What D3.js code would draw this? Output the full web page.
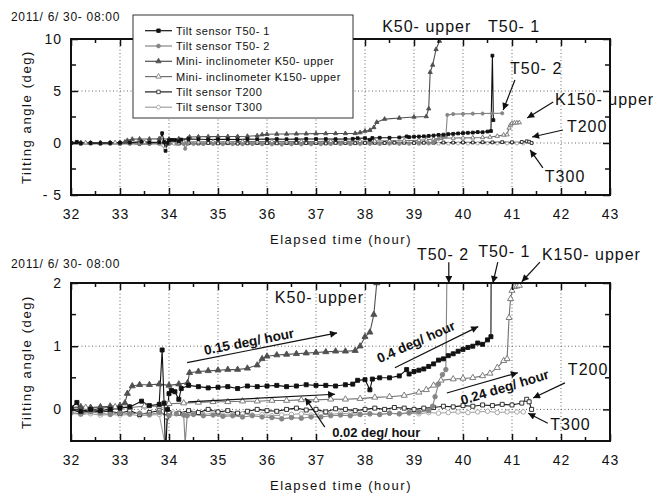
<!DOCTYPE html>
<html><head><meta charset="utf-8">
<script src="https://cdn.jsdelivr.net/npm/d3@7"></script>
<style>
body{margin:0;background:#fff}
svg{display:block}
text{font-family:"Liberation Sans",Arial,sans-serif;fill:#111}
</style>
</head><body>
<svg id="c" width="664" height="496"></svg>
<script>
// ---------------- data ----------------
const xTicks = [32,33,34,35,36,37,38,39,40,41,42,43];
const topYTicks = [-5,0,5,10];
const topYLabels = ["- 5","0","5","10"];
const botYTicks = [0,1,2];
const botYLabels = ["0","1","2"];
const seriesNames = ["Tilt sensor T50- 1","Tilt sensor T50- 2","Mini- inclinometer K50- upper","Mini- inclinometer K150- upper","Tilt sensor T200","Tilt sensor T300"];

const T50_1 = [[32.0,0.02],[32.12,0.11],[32.2,-0.03],[32.4,0.0],[32.6,-0.02],[32.8,0.0],[33.0,0.02],[33.2,0.04],[33.44,0.13],[33.6,0.06],[33.8,0.08],[33.86,0.94],[33.9,0.1],[33.93,-0.75],[33.97,0.0],[34.0,0.25],[34.05,0.3],[34.12,0.28],[34.2,0.16],[34.25,0.33],[34.4,0.38],[34.6,0.36],[34.8,0.34],[35.0,0.35],[35.2,0.36],[35.4,0.33],[35.6,0.37],[35.8,0.36],[36.0,0.37],[36.2,0.38],[36.4,0.36],[36.6,0.37],[36.8,0.39],[37.0,0.38],[37.2,0.38],[37.4,0.37],[37.6,0.39],[37.75,0.4],[37.85,0.46],[38.0,0.47],[38.1,0.31],[38.15,0.48],[38.3,0.5],[38.5,0.5],[38.7,0.53],[38.85,0.63],[38.9,0.56],[39.0,0.6],[39.1,0.62],[39.2,0.64],[39.3,0.68],[39.4,0.72],[39.5,0.78],[39.6,0.8],[39.7,0.85],[39.8,0.88],[39.9,0.92],[40.0,0.95],[40.1,0.98],[40.2,1.0],[40.3,1.05],[40.4,1.03],[40.5,1.1],[40.57,1.15],[40.6,8.4],[40.62,2.2]];

const T50_2 = [[32.0,-0.05],[32.2,-0.07],[32.4,-0.04],[32.6,-0.06],[32.8,-0.08],[33.0,-0.05],[33.2,-0.07],[33.4,-0.06],[33.6,-0.08],[33.8,-0.05],[34.0,-0.1],[34.15,-0.07],[34.3,-0.09],[34.33,-0.55],[34.37,-0.1],[34.5,-0.08],[34.7,-0.1],[34.9,-0.09],[35.1,-0.11],[35.3,-0.1],[35.5,-0.12],[35.7,-0.1],[35.9,-0.12],[36.1,-0.13],[36.3,-0.15],[36.5,-0.13],[36.7,-0.14],[36.9,-0.12],[37.1,-0.12],[37.3,-0.1],[37.5,-0.09],[37.7,-0.1],[37.9,-0.08],[38.1,-0.07],[38.3,-0.08],[38.5,-0.06],[38.7,-0.07],[38.9,-0.05],[39.1,-0.04],[39.3,-0.02],[39.38,0.05],[39.43,0.2],[39.5,0.4],[39.58,0.55],[39.65,0.63],[39.68,2.7],[39.8,2.78],[40.0,2.8],[40.2,2.82],[40.4,2.83],[40.6,2.85],[40.8,2.86]];

const K50 = [[32.0,0.03],[32.2,0.04],[32.4,0.03],[32.6,0.04],[32.8,0.05],[33.0,0.06],[33.1,0.1],[33.15,0.25],[33.25,0.37],[33.4,0.39],[33.6,0.39],[33.8,0.4],[34.0,0.38],[34.2,0.4],[34.38,0.42],[34.42,0.58],[34.6,0.6],[34.8,0.61],[35.0,0.62],[35.2,0.63],[35.4,0.63],[35.6,0.65],[35.8,0.7],[35.9,0.8],[36.0,0.84],[36.2,0.86],[36.4,0.87],[36.6,0.88],[36.8,0.89],[37.0,0.9],[37.2,0.91],[37.4,0.92],[37.6,0.92],[37.8,0.93],[37.9,1.0],[38.0,1.15],[38.1,1.22],[38.18,1.5],[38.24,2.0],[38.4,2.3],[38.7,2.4],[39.0,2.5],[39.25,2.55],[39.3,3.3],[39.33,6.8],[39.38,7.5],[39.45,9.0],[39.52,9.8]];

const K150 = [[32.0,0.02],[32.3,0.03],[32.6,0.02],[32.9,0.04],[33.2,0.03],[33.5,0.05],[33.8,0.05],[34.0,0.09],[34.3,0.1],[34.6,0.11],[34.9,0.12],[35.2,0.12],[35.5,0.13],[35.8,0.13],[36.1,0.14],[36.4,0.14],[36.7,0.15],[37.0,0.15],[37.3,0.16],[37.6,0.16],[37.9,0.17],[38.2,0.19],[38.5,0.2],[38.8,0.22],[39.1,0.27],[39.25,0.31],[39.4,0.38],[39.55,0.46],[39.8,0.48],[40.0,0.49],[40.2,0.5],[40.4,0.53],[40.55,0.57],[40.7,0.66],[40.83,0.77],[40.9,0.8],[40.94,1.45],[40.97,1.75],[41.0,1.88],[41.05,1.94],[41.1,1.95],[41.15,1.96]];

const T200 = [[32.0,0.0],[32.2,-0.05],[32.4,-0.02],[32.6,-0.04],[32.8,-0.03],[33.0,-0.06],[33.2,-0.02],[33.4,-0.08],[33.6,-0.05],[33.8,-0.02],[33.95,-0.12],[34.0,-0.05],[34.2,-0.06],[34.4,-0.02],[34.6,-0.05],[34.8,0.0],[35.0,-0.04],[35.2,-0.02],[35.4,-0.06],[35.6,-0.03],[35.8,0.0],[36.0,-0.02],[36.2,-0.03],[36.4,0.0],[36.6,0.02],[36.8,-0.01],[37.0,0.0],[37.2,-0.04],[37.4,0.01],[37.6,0.0],[37.8,-0.02],[38.0,0.0],[38.2,0.02],[38.4,0.0],[38.6,0.03],[38.8,0.02],[39.0,0.0],[39.2,0.02],[39.4,0.03],[39.6,0.05],[39.8,0.04],[40.0,0.06],[40.2,0.05],[40.4,0.07],[40.6,0.06],[40.8,0.08],[41.0,0.07],[41.2,0.1],[41.3,0.16],[41.35,0.12],[41.4,0.0]];

const T300 = [[32.0,-0.06],[32.2,-0.08],[32.4,-0.07],[32.6,-0.09],[32.8,-0.08],[33.0,-0.09],[33.2,-0.08],[33.4,-0.1],[33.6,-0.09],[33.8,-0.08],[33.92,-0.55],[33.97,-0.1],[34.1,-0.06],[34.3,-0.08],[34.5,-0.07],[34.7,-0.08],[34.9,-0.06],[35.1,-0.09],[35.3,-0.08],[35.5,-0.07],[35.7,-0.09],[35.9,-0.08],[36.1,-0.1],[36.3,-0.09],[36.5,-0.08],[36.7,-0.07],[36.9,-0.09],[37.1,-0.07],[37.3,-0.08],[37.5,-0.06],[37.7,-0.07],[37.9,-0.08],[38.1,-0.07],[38.3,-0.08],[38.5,-0.06],[38.7,-0.07],[38.9,-0.06],[39.1,-0.07],[39.3,-0.05],[39.5,-0.06],[39.7,-0.05],[39.9,-0.04],[40.1,-0.05],[40.3,-0.04],[40.5,-0.03],[40.7,-0.05],[40.9,-0.04],[41.1,-0.04],[41.23,-0.04]];

const seriesData = [T50_1, T50_2, K50, K150, T200, T300];
const seriesColors = ["#111","#858585","#505050","#707070","#1e1e1e","#a0a0a0"];
const seriesSymbols = [d3.symbolSquare, d3.symbolCircle, d3.symbolTriangle, d3.symbolTriangle, d3.symbolSquare, d3.symbolCircle];
const seriesFilled = [true,true,true,false,false,false];

// annotation labels (data coordinates)
const topLabels = [
  {t:"K50- upper", h:38.35, v:10.67},
  {t:"T50- 1", h:40.51, v:10.67},
  {t:"T50- 2", h:40.96, v:6.63, a:[[41.06,6.06],[40.82,3.17]]},
  {t:"K150- upper", h:41.88, v:3.65, a:[[41.84,3.94],[41.31,2.4]]},
  {t:"T200", h:42.12, v:1.06, a:[[42.04,1.25],[41.41,0.58]]},
  {t:"T300", h:41.67, v:-3.75, a:[[41.63,-2.4],[41.37,-0.67]]}
];
const botLabels = [
  {t:"K50- upper", h:36.16, v:1.68},
  {t:"T50- 2", h:39.06, v:2.36, a:[[39.71,2.33],[39.71,2.0]]},
  {t:"T50- 1", h:40.31, v:2.41, a:[[40.71,2.33],[40.61,2.0]]},
  {t:"K150- upper", h:41.61, v:2.36, a:[[41.57,2.33],[41.2,2.02]]},
  {t:"T200", h:42.14, v:0.54, a:[[42.08,0.42],[41.43,0.18]]},
  {t:"T300", h:41.78, v:-0.33, a:[[41.73,-0.22],[41.33,-0.06]]}
];
const rateLabels = [
  {t:"0.15 deg/ hour", h:35.65, v:1.0, rot:-11, line:[[34.37,0.74],[37.43,1.21]]},
  {t:"0.4 deg/ hour", h:39.08, v:1.0, rot:-24, line:[[38.61,0.66],[40.31,1.31]]},
  {t:"0.24 deg/ hour", h:40.88, v:0.28, rot:-17, line:[[39.67,0.26],[41.12,0.58]]}
];

// ---------------- drawing ----------------
const svg = d3.select("#c");
const defs = svg.append("defs");
defs.append("marker").attr("id","ah").attr("viewBox","0 0 10 10").attr("refX",10).attr("refY",5)
  .attr("markerWidth",9).attr("markerHeight",7).attr("markerUnits","userSpaceOnUse").attr("orient","auto")
  .append("path").attr("d","M0,0L10,5L0,10z").attr("fill","#111");

function panel(cfg){
  const x = d3.scaleLinear().domain([32,43]).range([71,610]);
  const y = d3.scaleLinear().domain(cfg.yDomain).range(cfg.yRange);
  const [yb, yt] = cfg.yRange;
  const g = svg.append("g");
  const cid = "clip"+cfg.id;
  defs.append("clipPath").attr("id",cid).append("rect")
    .attr("x",71).attr("y",yt).attr("width",539).attr("height",yb-yt);

  // grid
  const grid = g.append("g").attr("stroke","#555").attr("stroke-width",0.9).attr("stroke-dasharray","1,2.5");
  xTicks.slice(1,-1).forEach(t=>grid.append("line").attr("x1",x(t)).attr("x2",x(t)).attr("y1",yt).attr("y2",yb));
  cfg.gridY.forEach(t=>grid.append("line").attr("x1",71).attr("x2",610).attr("y1",y(t)).attr("y2",y(t)));

  // series
  const line = d3.line().x(d=>x(d[0])).y(d=>y(d[1]));
  const dg = g.append("g").attr("clip-path",`url(#${cid})`);
  const order = [5,4,3,1,2,0];
  order.forEach(i=>{
    dg.append("path").attr("d",line(seriesData[i])).attr("fill","none")
      .attr("stroke",seriesColors[i]).attr("stroke-width",cfg.lw);
  });
  order.forEach(i=>{
    const sym = d3.symbol().type(seriesSymbols[i]).size(cfg.ms);
    dg.append("g").selectAll("path").data(seriesData[i]).join("path")
      .attr("transform",d=>`translate(${x(d[0])},${y(d[1])})`)
      .attr("d",sym)
      .attr("fill",seriesFilled[i]?seriesColors[i]:"#fff")
      .attr("stroke",seriesColors[i]).attr("stroke-width",0.9);
  });

  // axes with inward ticks
  const minorX = d3.range(32.5,43,1);
  const ax = g.append("g");
  const bottom = ax.append("g").attr("transform",`translate(0,${yb})`)
    .call(d3.axisBottom(x).tickValues(xTicks).tickSize(-7).tickPadding(14).tickFormat(d3.format("d")));
  bottom.append("g").selectAll("line").data(minorX).join("line")
    .attr("x1",d=>x(d)).attr("x2",d=>x(d)).attr("y1",0).attr("y2",-4).attr("stroke","#111").attr("stroke-width",1.5);
  const top = ax.append("g").attr("transform",`translate(0,${yt})`)
    .call(d3.axisTop(x).tickValues(xTicks).tickSize(-7).tickFormat(""));
  top.append("g").selectAll("line").data(minorX).join("line")
    .attr("x1",d=>x(d)).attr("x2",d=>x(d)).attr("y1",0).attr("y2",4).attr("stroke","#111").attr("stroke-width",1.5);
  const left = ax.append("g").attr("transform","translate(71,0)")
    .call(d3.axisLeft(y).tickValues(cfg.yTicks).tickSize(-7).tickPadding(9).tickFormat((d,i)=>cfg.yLabels[i]));
  left.append("g").selectAll("line").data(cfg.minorY).join("line")
    .attr("x1",0).attr("x2",5).attr("y1",d=>y(d)).attr("y2",d=>y(d)).attr("stroke","#111").attr("stroke-width",1.5);
  const right = ax.append("g").attr("transform","translate(610,0)")
    .call(d3.axisRight(y).tickValues(cfg.yTicks).tickSize(-7).tickFormat(""));
  right.append("g").selectAll("line").data(cfg.minorY).join("line")
    .attr("x1",0).attr("x2",-5).attr("y1",d=>y(d)).attr("y2",d=>y(d)).attr("stroke","#111").attr("stroke-width",1.5);
  ax.selectAll(".domain").remove();
  ax.selectAll(".tick line").attr("stroke","#111").attr("stroke-width",1.5);
  ax.selectAll(".tick text").attr("font-size",14).attr("letter-spacing",1).attr("fill","#111")
    .attr("font-family","'Liberation Sans',Arial,sans-serif");
  // frame
  g.append("rect").attr("x",71).attr("y",yt).attr("width",539).attr("height",yb-yt)
    .attr("fill","none").attr("stroke","#111").attr("stroke-width",2);

  // titles
  g.append("text").attr("transform",`translate(31,${(yt+yb)/2}) rotate(-90)`).attr("text-anchor","middle")
    .attr("font-size",13).attr("letter-spacing",1.6).text("Tilting angle (deg)");
  g.append("text").attr("x",341).attr("y",cfg.xTitleY).attr("text-anchor","middle")
    .attr("font-size",13).attr("letter-spacing",1.5).text("Elapsed time (hour)");
  g.append("text").attr("x",11).attr("y",cfg.dateY).attr("font-size",12).attr("letter-spacing",0.7)
    .text("2011/ 6/ 30- 08:00");

  // labels
  cfg.labels.forEach(l=>{
    g.append("text").attr("x",x(l.h)).attr("y",y(l.v)).attr("font-size",16).attr("letter-spacing",1).text(l.t);
    if(l.a){
      g.append("line").attr("x1",x(l.a[0][0])).attr("y1",y(l.a[0][1])).attr("x2",x(l.a[1][0])).attr("y2",y(l.a[1][1]))
        .attr("stroke","#111").attr("stroke-width",1.2).attr("marker-end","url(#ah)");
    }
  });
  return {g,x,y};
}

panel({id:"t", yDomain:[-5,10], yRange:[195,39], yTicks:topYTicks, yLabels:topYLabels, minorY:[-2.5,2.5,7.5],
  gridY:[0,5], lw:1.1, ms:8, xTitleY:244, dateY:21, labels:topLabels});

const B = panel({id:"b", yDomain:[-0.5,2], yRange:[441,283], yTicks:botYTicks, yLabels:botYLabels, minorY:[0.5,1.5],
  gridY:[0,1], lw:1.1, ms:16, xTitleY:490, dateY:268, labels:botLabels});

// rate annotations
rateLabels.forEach(r=>{
  B.g.append("line").attr("x1",B.x(r.line[0][0])).attr("y1",B.y(r.line[0][1]))
    .attr("x2",B.x(r.line[1][0])).attr("y2",B.y(r.line[1][1]))
    .attr("stroke","#111").attr("stroke-width",1.2).attr("marker-end","url(#ah)");
  B.g.append("text").attr("transform",`translate(${B.x(r.h)},${B.y(r.v)}) rotate(${r.rot})`)
    .attr("text-anchor","middle").attr("font-size",13.5).attr("font-weight","bold").text(r.t);
});
// 0.02 deg/hour
const s02 = {t:"0.02 deg/ hour", h:37.33, v:-0.44, line:[[34.39,0.12],[37.39,0.24]], ptr:[[37.18,-0.28],[36.78,0.18]]};
B.g.append("line").attr("x1",B.x(s02.line[0][0])).attr("y1",B.y(s02.line[0][1]))
  .attr("x2",B.x(s02.line[1][0])).attr("y2",B.y(s02.line[1][1]))
  .attr("stroke","#111").attr("stroke-width",1.2).attr("marker-end","url(#ah)");
B.g.append("line").attr("x1",B.x(s02.ptr[0][0])).attr("y1",B.y(s02.ptr[0][1]))
  .attr("x2",B.x(s02.ptr[1][0])).attr("y2",B.y(s02.ptr[1][1]))
  .attr("stroke","#111").attr("stroke-width",1.2).attr("marker-end","url(#ah)");
const t02 = B.g.append("text").attr("x",B.x(s02.h)).attr("y",B.y(s02.v)).attr("font-size",13).attr("font-weight","bold").text(s02.t);
const bb = t02.node().getBBox();
B.g.insert("rect", function(){return t02.node();}).attr("x",bb.x-2).attr("y",bb.y).attr("width",bb.width+4).attr("height",bb.height-1).attr("fill","#fff");

// legend
const lg = svg.append("g");
lg.append("rect").attr("x",133).attr("y",15).attr("width",220).attr("height",103).attr("fill","#fff").attr("stroke","#333").attr("stroke-width",1);
seriesNames.forEach((n,i)=>{
  const yy = 30.7 + i*15.3;
  lg.append("line").attr("x1",145).attr("x2",172).attr("y1",yy).attr("y2",yy).attr("stroke",seriesColors[i]).attr("stroke-width",1.2);
  lg.append("path").attr("transform",`translate(158.5,${yy})`).attr("d",d3.symbol().type(seriesSymbols[i]).size(12))
    .attr("fill",seriesFilled[i]?seriesColors[i]:"#fff").attr("stroke",seriesColors[i]).attr("stroke-width",0.8);
  lg.append("text").attr("x",176).attr("y",yy+4).attr("font-size",11).attr("letter-spacing",0.5).attr("fill","#222").text(n);
});
</script>
</body></html>
